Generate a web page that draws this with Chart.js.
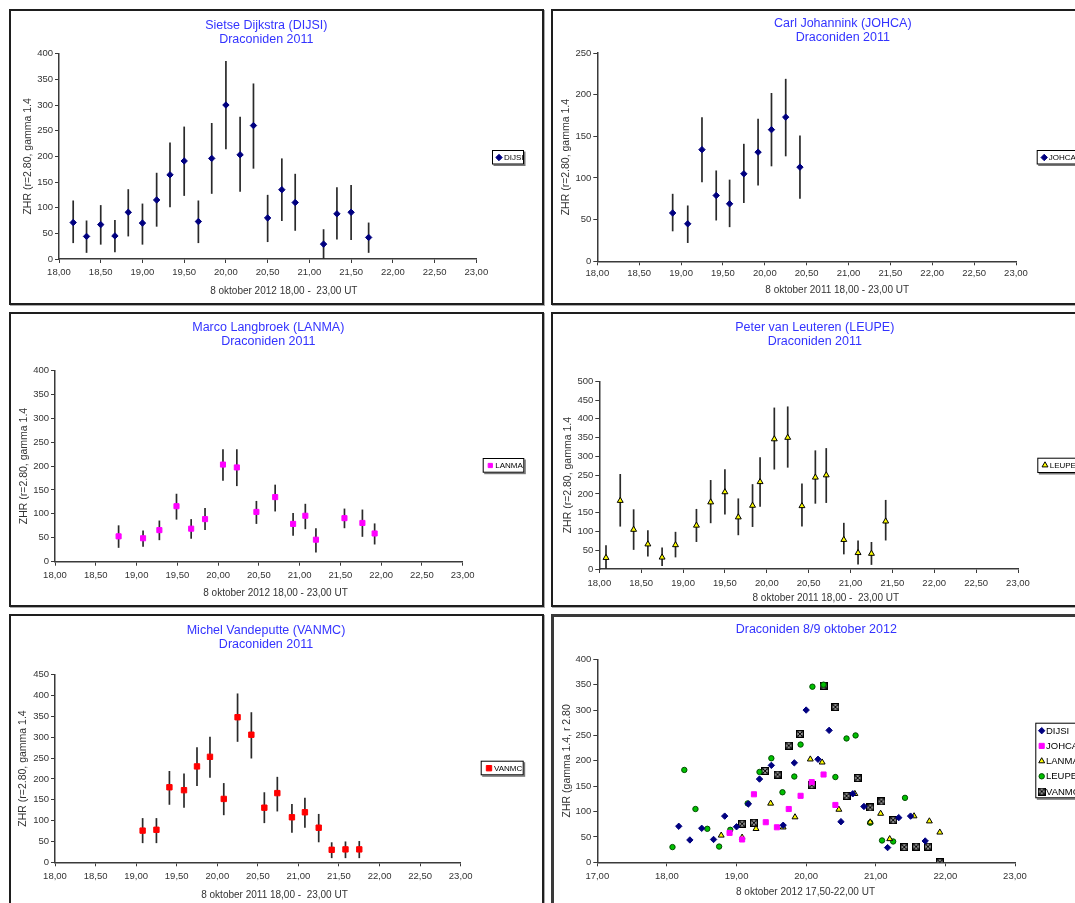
<!DOCTYPE html>
<html>
<head>
<meta charset="utf-8">
<title>Draconiden ZHR</title>
<script src="https://cdn.jsdelivr.net/npm/chart.js@4.4.1/dist/chart.umd.min.js"></script>
<style>
  html, body { margin: 0; padding: 0; background: #fff; width: 1075px; height: 903px; overflow: hidden; }
  .panel { position: absolute; }
  .panel canvas { position: absolute; left: 0; top: 0; }
  .frame { position: absolute; left: 0; top: 0; right: 0; bottom: 0; border: 2px solid #1e1e1e;
           box-sizing: border-box; pointer-events: none; box-shadow: 1px 1px 0 #aaa; }
  .frame.thick { border: 3px solid #3a3a3a; }
</style>
</head>
<body>
<div class="panel" style="left:9px;top:9px;width:535px;height:296px"><canvas id="c1" width="535" height="296"></canvas><div class="frame"></div></div>
<div class="panel" style="left:551px;top:9px;width:535px;height:296px"><canvas id="c2" width="535" height="296"></canvas><div class="frame"></div></div>
<div class="panel" style="left:9px;top:312px;width:535px;height:295px"><canvas id="c3" width="535" height="295"></canvas><div class="frame"></div></div>
<div class="panel" style="left:551px;top:312px;width:535px;height:295px"><canvas id="c4" width="535" height="295"></canvas><div class="frame"></div></div>
<div class="panel" style="left:9px;top:614px;width:535px;height:296px"><canvas id="c5" width="535" height="296"></canvas><div class="frame"></div></div>
<div class="panel" style="left:551px;top:614px;width:535px;height:296px"><canvas id="c6" width="535" height="296"></canvas><div class="frame thick"></div></div>

<script>
// ---- observations: time (UT, decimal hours), ZHR and its error range ----
const dijsiTime = [18.17, 18.33, 18.50, 18.67, 18.83, 19.00, 19.17, 19.33, 19.50, 19.67, 19.83, 20.00, 20.17, 20.33, 20.50, 20.67, 20.83, 21.17, 21.33, 21.50, 21.71];
const dijsiZhr  = [71, 44, 67, 45, 91, 70, 115, 164, 191, 73, 196, 300, 203, 260, 80, 135, 110, 29, 88, 91, 42];
const dijsiLow  = [31, 12, 28, 13, 44, 28, 63, 101, 123, 31, 127, 214, 131, 176, 33, 74, 55, 0, 38, 37, 12];
const dijsiHigh = [114, 75, 105, 76, 136, 108, 168, 227, 258, 114, 265, 386, 277, 342, 125, 196, 166, 58, 140, 144, 71];

const johcaTime = [18.90, 19.08, 19.25, 19.42, 19.58, 19.75, 19.92, 20.08, 20.25, 20.42];
const johcaZhr  = [58, 45, 134, 79, 69, 105, 131, 158, 173, 113];
const johcaLow  = [36, 22, 95, 49, 41, 70, 91, 114, 126, 75];
const johcaHigh = [81, 67, 173, 109, 98, 141, 171, 202, 219, 151];

const lanmaTime = [18.78, 19.08, 19.28, 19.49, 19.67, 19.84, 20.06, 20.23, 20.47, 20.70, 20.92, 21.07, 21.20, 21.55, 21.77, 21.92];
const lanmaZhr  = [53, 49, 66, 116, 69, 89, 203, 197, 104, 135, 79, 96, 46, 91, 81, 59];
const lanmaLow  = [29, 31, 45, 88, 48, 66, 169, 158, 79, 105, 54, 68, 19, 70, 52, 36];
const lanmaHigh = [76, 65, 86, 142, 89, 112, 235, 235, 127, 161, 102, 121, 70, 111, 109, 80];

const leupeTime = [18.08, 18.25, 18.41, 18.58, 18.75, 18.91, 19.16, 19.33, 19.50, 19.66, 19.83, 19.92, 20.09, 20.25, 20.42, 20.58, 20.71, 20.92, 21.09, 21.25, 21.42];
const leupeZhr  = [30, 182, 105, 66, 31, 64, 116, 178, 205, 138, 169, 232, 346, 350, 168, 244, 250, 78, 43, 41, 127];
const leupeLow  = [0, 113, 51, 33, 8, 31, 72, 122, 145, 90, 112, 166, 265, 270, 113, 174, 176, 39, 12, 11, 76];
const leupeHigh = [63, 253, 159, 103, 57, 99, 160, 237, 266, 188, 226, 298, 430, 433, 228, 316, 322, 123, 76, 72, 184];

const vanmcTime = [19.08, 19.25, 19.41, 19.59, 19.75, 19.91, 20.08, 20.25, 20.42, 20.58, 20.74, 20.92, 21.08, 21.25, 21.41, 21.58, 21.75];
const vanmcZhr  = [76, 78, 180, 173, 230, 253, 152, 348, 306, 131, 166, 108, 120, 83, 30, 31, 31];
const vanmcLow  = [46, 46, 138, 131, 183, 203, 113, 289, 249, 94, 122, 71, 83, 48, 10, 10, 10];
const vanmcHigh = [106, 106, 219, 213, 276, 301, 190, 405, 360, 168, 205, 140, 155, 116, 48, 50, 51];

// closing VANMC interval, only shown in the combined plot
const vanmcExtraTime = [21.92];
const vanmcExtraZhr  = [0];

// ---- axis ranges / tick steps ----
const hourRange = [18, 23];
const hourRangeAll = [17, 23];
const yMaxDijsi = 400, yMaxJohca = 250, yMaxLanma = 400, yMaxLeupe = 500, yMaxVanmc = 450, yMaxAll = 400;

const FONT = "'Liberation Sans', Arial, Helvetica, sans-serif";
Chart.defaults.font.family = FONT;
Chart.defaults.animation = false;

const pts = (xs, ys) => xs.map((x, i) => ({ x, y: ys[i] }));
const comma = v => Number(v).toFixed(2).replace('.', ',');

// vertical error bars, drawn below the markers
const errorBars = {
  id: 'errorBars',
  beforeDatasetsDraw(chart) {
    const { ctx, scales: { x, y } } = chart;
    ctx.save();
    ctx.strokeStyle = '#2a2a2a';
    ctx.lineWidth = 1.7;
    chart.data.datasets.forEach(ds => {
      if (!ds.errLow) return;
      ds.data.forEach((p, i) => {
        const px = x.getPixelForValue(p.x);
        ctx.beginPath();
        ctx.moveTo(px, y.getPixelForValue(ds.errLow[i]));
        ctx.lineTo(px, y.getPixelForValue(ds.errHigh[i]));
        ctx.stroke();
      });
    });
    ctx.restore();
  }
};

// centre the chart title on a chosen x position
const titlePlace = {
  id: 'titlePlace',
  afterLayout(chart, args, o) {
    const t = chart.titleBlock;
    if (!t || o.cx == null) return;
    const half = 200;
    t.left = o.cx - half;
    t.right = o.cx + half;
    t.width = 2 * half;
  }
};

// framed legend box placed at a fixed spot to the right of the plot
const boxLegend = {
  id: 'boxLegend',
  afterDraw(chart, args, o) {
    if (!o || !o.w) return;
    const ctx = chart.ctx;
    ctx.save();
    ctx.fillStyle = '#777';
    ctx.fillRect(o.x + 1.5, o.y + 1.5, o.w, o.h);
    ctx.fillStyle = '#fff';
    ctx.fillRect(o.x, o.y, o.w, o.h);
    ctx.strokeStyle = '#000';
    ctx.lineWidth = 1;
    ctx.strokeRect(o.x + 0.5, o.y + 0.5, o.w - 1, o.h - 1);
    ctx.font = o.fontSize + 'px ' + FONT;
    ctx.textBaseline = 'middle';
    ctx.textAlign = 'left';
    let row = 0;
    chart.data.datasets.forEach(ds => {
      const cy = o.y + o.firstRow + row * (o.rowH || 0);
      ctx.fillStyle = ds.backgroundColor;
      ctx.strokeStyle = ds.borderColor;
      ctx.lineWidth = ds.borderWidth || 0;
      Chart.helpers.drawPoint(ctx, {
        pointStyle: ds.pointStyle, rotation: 0,
        radius: o.legendRadius || ds.pointRadius, borderWidth: ds.borderWidth || 0
      }, o.x + o.markerX, cy);
      ctx.fillStyle = '#000';
      ctx.fillText(ds.label, o.x + o.textX, cy + 0.5);
      row++;
    });
    ctx.restore();
  }
};

function makePanel(id, s) {
  const W = s.W, H = s.H;
  const yTitleLh = 12.6, xTitleLh = 12, titleLh = 14;
  const padLeft = s.yTitleX - yTitleLh / 2;
  const xScaleBottom = s.xTitleY + xTitleLh / 2;
  const padBottom = H - xScaleBottom;
  const titleTop = s.titleY - titleLh / 2;
  const titleBottom = s.plot.t - titleTop - s.title.length * titleLh;

  return new Chart(document.getElementById(id), {
    type: 'scatter',
    data: { datasets: s.datasets },
    plugins: [errorBars, titlePlace, boxLegend],
    options: {
      responsive: false,
      layout: { padding: { left: padLeft, right: W - s.plot.r, top: 0, bottom: padBottom } },
      plugins: {
        legend: { display: false },
        tooltip: { enabled: false },
        title: {
          display: true, text: s.title, color: '#3333ff',
          font: { size: 12.5, weight: 'normal', lineHeight: titleLh / 12.5 },
          padding: { top: titleTop, bottom: titleBottom }
        },
        titlePlace: { cx: s.titleX },
        boxLegend: s.legend
      },
      scales: {
        x: {
          type: 'linear', min: s.xRange[0], max: s.xRange[1],
          afterFit: sc => {
            sc.height = xScaleBottom - s.plot.b;
            if (!sc._titleShift) {
              // axis title sits at its own x centre rather than mid-axis
              const draw = sc.drawTitle;
              sc.drawTitle = function () {
                const dx = s.xTitleX - (this.left + this.right) / 2;
                this.left += dx; this.right += dx;
                draw.call(this);
                this.left -= dx; this.right -= dx;
              };
              sc._titleShift = true;
            }
          },
          border: { display: true, color: '#3a3a3a', width: 1.5 },
          grid: { drawOnChartArea: false, drawTicks: true, tickLength: 4, color: '#3a3a3a', lineWidth: 1 },
          ticks: { stepSize: s.xStep, autoSkip: false, maxRotation: 0, color: '#333',
                   padding: s.xTickPad, font: { size: 9.5 }, callback: comma },
          title: { display: true, text: s.xTitle, color: '#333', padding: 0,
                   font: { size: 10, lineHeight: 1.2 } }
        },
        y: {
          min: 0, max: s.yMax,
          afterFit: sc => { sc.width = s.plot.l - padLeft; },
          border: { display: true, color: '#3a3a3a', width: 1.5 },
          grid: { drawOnChartArea: false, drawTicks: true, tickLength: 4, color: '#3a3a3a', lineWidth: 1 },
          ticks: { stepSize: 50, color: '#333', padding: 2, font: { size: 9.5 } },
          title: { display: true, text: s.yTitle, color: '#333', padding: 0,
                   font: { size: 10.5, lineHeight: 1.2 } }
        }
      }
    }
  });
}

// "box with cross" marker
function boxCross(size) {
  const c = document.createElement('canvas');
  c.width = size; c.height = size;
  const g = c.getContext('2d');
  g.fillStyle = '#000'; g.fillRect(0, 0, size, size);
  g.fillStyle = '#fff'; g.fillRect(1.5, 1.5, size - 3, size - 3);
  g.strokeStyle = '#000'; g.lineWidth = 1.3;
  g.beginPath();
  g.moveTo(1.5, 1.5); g.lineTo(size - 1.5, size - 1.5);
  g.moveTo(size - 1.5, 1.5); g.lineTo(1.5, size - 1.5);
  g.stroke();
  return c;
}
const crossBox = boxCross(8);

const styleDijsi = { pointStyle: 'rectRot', pointRadius: 3.2, backgroundColor: '#000080', borderColor: '#000080', borderWidth: 1 };
const styleJohca = { pointStyle: 'rectRot', pointRadius: 3.2, backgroundColor: '#000080', borderColor: '#000080', borderWidth: 1 };
const styleLanma = { pointStyle: 'rect', pointRadius: 3.6, backgroundColor: '#ff00ff', borderColor: '#ff00ff', borderWidth: 1 };
const styleLeupe = { pointStyle: 'triangle', pointRadius: 3.4, backgroundColor: '#ffff00', borderColor: '#000', borderWidth: 1 };
const styleVanmc = { pointStyle: 'rect', pointRadius: 3.8, backgroundColor: '#ff0000', borderColor: '#ff0000', borderWidth: 1 };

const yTitle = 'ZHR (r=2.80, gamma 1.4';
const smallLegend = { fontSize: 8, firstRow: 7.5 };

makePanel('c1', {
  W: 535, H: 296, plot: { l: 50, t: 44.7, r: 467.3, b: 250 },
  title: ['Sietse Dijkstra (DIJSI)', 'Draconiden 2011'], titleY: 17, titleX: 257.3,
  xTitle: '8 oktober 2012 18,00 -  23,00 UT', xTitleY: 282.7, xTitleX: 274.8, yTitle, yTitleX: 19.3,
  xRange: hourRange, xStep: 0.5, yMax: yMaxDijsi, xTickPad: 3.6,
  legend: Object.assign({ x: 483, y: 141, w: 32, h: 14.5, markerX: 7, textX: 12 }, smallLegend),
  datasets: [Object.assign({ label: 'DIJSI', data: pts(dijsiTime, dijsiZhr), errLow: dijsiLow, errHigh: dijsiHigh }, styleDijsi)]
});

makePanel('c2', {
  W: 535, H: 296, plot: { l: 46.3, t: 44, r: 465, b: 252.3 },
  title: ['Carl Johannink (JOHCA)', 'Draconiden 2011'], titleY: 15, titleX: 291.8,
  xTitle: '8 oktober 2011 18,00 - 23,00 UT', xTitleY: 281.7, xTitleX: 286.2, yTitle, yTitleX: 15.3,
  xRange: hourRange, xStep: 0.5, yMax: yMaxJohca, xTickPad: 2.6,
  legend: Object.assign({ x: 485.7, y: 141, w: 60, h: 14.5, markerX: 7.5, textX: 12 }, smallLegend),
  datasets: [Object.assign({ label: 'JOHCA', data: pts(johcaTime, johcaZhr), errLow: johcaLow, errHigh: johcaHigh }, styleJohca)]
});

makePanel('c3', {
  W: 535, H: 295, plot: { l: 46, t: 58.3, r: 453.7, b: 249.7 },
  title: ['Marco Langbroek (LANMA)', 'Draconiden 2011'], titleY: 16, titleX: 259.3,
  xTitle: '8 oktober 2012 18,00 - 23,00 UT', xTitleY: 281.7, xTitleX: 266.5, yTitle, yTitleX: 15,
  xRange: hourRange, xStep: 0.5, yMax: yMaxLanma, xTickPad: 3.6,
  legend: Object.assign({ x: 473.7, y: 146, w: 41.6, h: 14.7, markerX: 7.6, textX: 12.6, legendRadius: 3 }, smallLegend),
  datasets: [Object.assign({ label: 'LANMA', data: pts(lanmaTime, lanmaZhr), errLow: lanmaLow, errHigh: lanmaHigh }, styleLanma)]
});

makePanel('c4', {
  W: 535, H: 295, plot: { l: 48.3, t: 69.3, r: 467, b: 257 },
  title: ['Peter van Leuteren (LEUPE)', 'Draconiden 2011'], titleY: 16, titleX: 263.8,
  xTitle: '8 oktober 2011 18,00 -  23,00 UT', xTitleY: 286.3, xTitleX: 274.8, yTitle, yTitleX: 17,
  xRange: hourRange, xStep: 0.5, yMax: yMaxLeupe, xTickPad: 4.6,
  legend: Object.assign({ x: 486.3, y: 145.7, w: 60, h: 15.3, markerX: 7.7, textX: 12.4 }, smallLegend),
  datasets: [Object.assign({ label: 'LEUPE', data: pts(leupeTime, leupeZhr), errLow: leupeLow, errHigh: leupeHigh }, styleLeupe)]
});

makePanel('c5', {
  W: 535, H: 296, plot: { l: 46, t: 60.7, r: 451.7, b: 248.3 },
  title: ['Michel Vandeputte (VANMC)', 'Draconiden 2011'], titleY: 16.7, titleX: 257,
  xTitle: '8 oktober 2011 18,00 -  23,00 UT', xTitleY: 281.7, xTitleX: 265.5, yTitle, yTitleX: 14.3,
  xRange: hourRange, xStep: 0.5, yMax: yMaxVanmc, xTickPad: 4.6,
  legend: Object.assign({ x: 471.7, y: 146.7, w: 43, h: 14.6, markerX: 8.3, textX: 13.3 }, smallLegend),
  datasets: [Object.assign({ label: 'VANMC', data: pts(vanmcTime, vanmcZhr), errLow: vanmcLow, errHigh: vanmcHigh }, styleVanmc)]
});

makePanel('c6', {
  W: 535, H: 296, plot: { l: 46.3, t: 45.3, r: 464, b: 248.3 },
  title: ['Draconiden 8/9 oktober 2012'], titleY: 16, titleX: 265.3,
  xTitle: '8 oktober 2012 17,50-22,00 UT', xTitleY: 278.7, xTitleX: 254.5, yTitle: 'ZHR (gamma 1.4, r 2.80', yTitleX: 16,
  xRange: hourRangeAll, xStep: 1, yMax: yMaxAll, xTickPad: 4.6,
  legend: { x: 484.3, y: 108.7, w: 60, h: 75.6, markerX: 6.4, textX: 10.7, fontSize: 9.5, firstRow: 8, rowH: 15.2 },
  datasets: [
    { label: 'DIJSI', data: pts(dijsiTime, dijsiZhr), pointStyle: 'rectRot', pointRadius: 3.2, backgroundColor: '#000080', borderColor: '#000080', borderWidth: 1 },
    { label: 'JOHCA', data: pts(johcaTime, johcaZhr), pointStyle: 'rect', pointRadius: 3.6, backgroundColor: '#ff00ff', borderColor: '#ff00ff', borderWidth: 1 },
    { label: 'LANMA', data: pts(lanmaTime, lanmaZhr), pointStyle: 'triangle', pointRadius: 3.4, backgroundColor: '#ffff00', borderColor: '#000', borderWidth: 1 },
    { label: 'LEUPE', data: pts(leupeTime, leupeZhr), pointStyle: 'circle', pointRadius: 2.7, backgroundColor: '#00c000', borderColor: '#004d00', borderWidth: 1 },
    { label: 'VANMC', data: pts(vanmcTime.concat(vanmcExtraTime), vanmcZhr.concat(vanmcExtraZhr)), pointStyle: crossBox, pointRadius: 4, backgroundColor: '#fff', borderColor: '#000', borderWidth: 1 }
  ]
});
</script>
</body>
</html>
